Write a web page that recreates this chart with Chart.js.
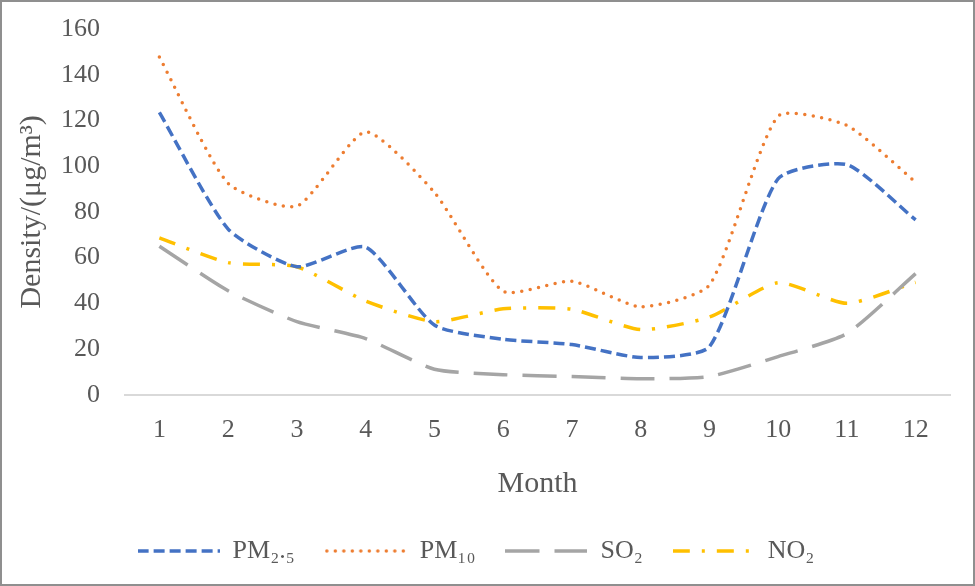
<!DOCTYPE html>
<html>
<head>
<meta charset="utf-8">
<script src="https://cdn.jsdelivr.net/npm/chart.js@4"></script>
<style>
  html, body { margin: 0; padding: 0; background: #fff; }
  #wrap {
    width: 975px; height: 586px; box-sizing: border-box;
    border: 2px solid #8f8f8f; background: #fff;
  }
  #chart { display: block; }
</style>
</head>
<body>
<div id="wrap"><canvas id="chart" width="971" height="582"></canvas></div>
<script>
// ─── DATA ─────────────────────────────────
const months = ['1', '2', '3', '4', '5', '6', '7', '8', '9', '10', '11', '12'];
const pm25 = [123.5, 72.5, 56, 64.6, 30.5, 24.3, 22, 16.3, 21, 94.5, 100.7, 76.5];
const pm10 = [147.7, 92.5, 82.5, 115, 88.5, 45.3, 49.7, 38.5, 48, 121.8, 117.8, 93];
const so2  = [65, 45.5, 32, 24.6, 11.2, 8.8, 8, 7, 8, 16.7, 26.8, 53];
const no2  = [68.6, 57.8, 56, 41, 32, 37.6, 37.4, 28.5, 34, 49, 40, 49.2];
const yTicks = [0, 20, 40, 60, 80, 100, 120, 140, 160];

const textColor = '#595959';
const serif = "'Liberation Serif', 'Times New Roman', serif";
const lineW = 3.5;

// petit canvas avec la ligne pointillée pour la légende
function legendLine(color, dash, cap) {
  const c = document.createElement('canvas');
  c.width = 82; c.height = 8;
  const g = c.getContext('2d');
  g.strokeStyle = color;
  g.lineWidth = lineW;
  g.lineCap = cap || 'butt';
  g.setLineDash(dash);
  g.beginPath();
  g.moveTo(cap === 'round' ? 2 : 0, 4);
  g.lineTo(82, 4);
  g.stroke();
  return c;
}

const series = [
  { label: 'PM₂.₅', data: pm25, color: '#4472C4', dash: [11, 5] },
  { label: 'PM₁₀', data: pm10, color: '#ED7D31', dash: [0, 8.5], cap: 'round' },
  { label: 'SO₂', data: so2, color: '#A5A5A5', dash: [34, 15] },
  { label: 'NO₂', data: no2, color: '#FFC000', dash: [17, 12, 3, 12] }
];

// ─── LINE CHART ─────────────────────────────────
const ctx = document.getElementById('chart').getContext('2d');

new Chart(ctx, {
  type: 'line',
  data: {
    labels: months,
    datasets: series.map(s => ({
      label: s.label,
      data: s.data,
      borderColor: s.color,
      backgroundColor: s.color,
      borderDash: s.dash,
      borderCapStyle: s.cap || 'butt',
      borderWidth: lineW,
      pointRadius: 0,
      pointHoverRadius: 0,
      fill: false,
      tension: 0.2
    }))
  },
  options: {
    responsive: false,
    animation: false,
    layout: {
      padding: { top: 0, right: 23, bottom: 10, left: 0 }
    },
    plugins: {
      legend: {
        position: 'bottom',
        labels: {
          usePointStyle: true,
          boxWidth: 82,
          boxHeight: 8,
          pointStyleWidth: 82,
          padding: 30,
          color: textColor,
          font: { family: serif, size: 26 },
          generateLabels: chart => series.map((s, i) => ({
            text: s.label,
            fontColor: textColor,
            pointStyle: legendLine(s.color, s.dash, s.cap),
            lineWidth: 0,
            hidden: false,
            datasetIndex: i
          }))
        }
      },
      tooltip: { enabled: false }
    },
    scales: {
      x: {
        type: 'category',
        offset: true,
        grid: { display: false, drawTicks: false },
        border: { display: true, color: '#d9d9d9', width: 2 },
        ticks: {
          padding: 20,
          color: textColor,
          font: { family: serif, size: 26 }
        },
        title: {
          display: true,
          text: 'Month',
          color: textColor,
          padding: { top: 0, bottom: 6 },
          font: { family: serif, size: 30 }
        }
      },
      y: {
        min: 0,
        max: 160,
        afterBuildTicks: axis => { axis.ticks = yTicks.map(v => ({ value: v })); },
        afterFit: axis => {
          axis.width = 123;
          axis.paddingTop = 27; // haut de la zone du graphique
        },
        grid: { display: false, drawTicks: false },
        border: { display: false },
        ticks: {
          padding: 25,
          color: textColor,
          font: { family: serif, size: 26 }
        },
        title: {
          display: true,
          text: 'Density/(μg/m³)',
          color: textColor,
          padding: { top: 12, bottom: 0 },
          font: { family: serif, size: 30 }
        }
      }
    }
  }
});
</script>
</body>
</html>
